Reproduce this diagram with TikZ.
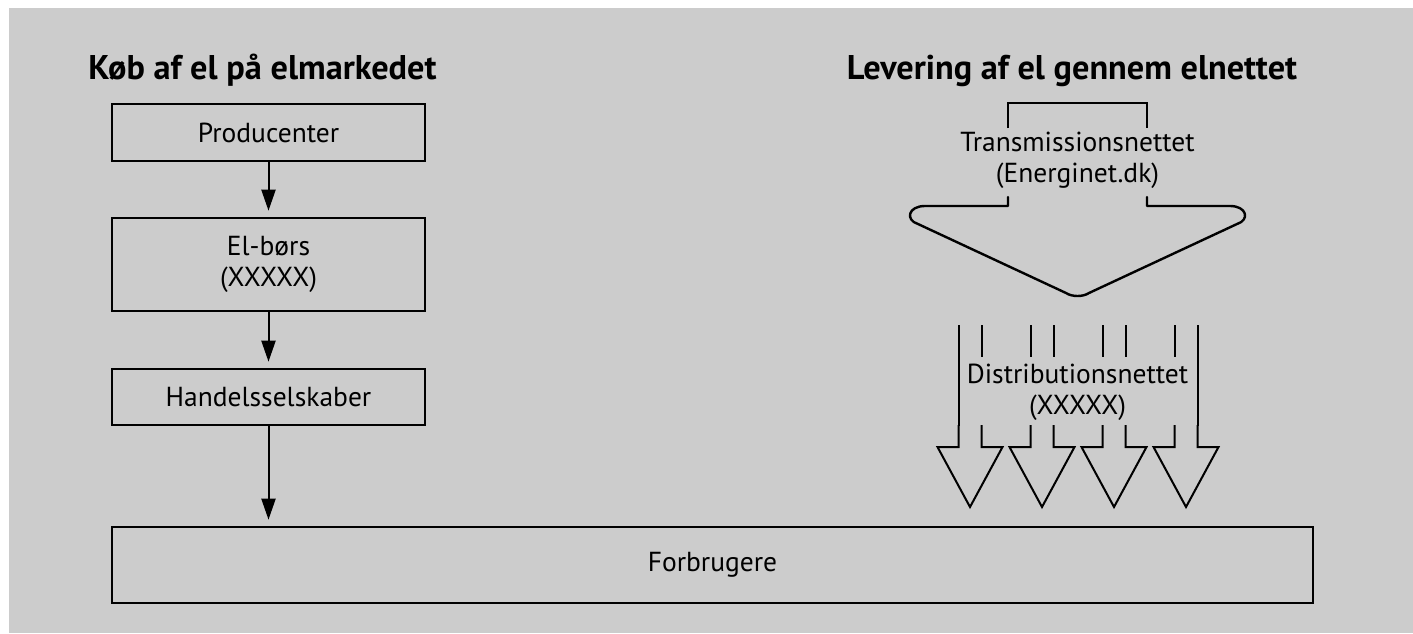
\documentclass[tikz,border=0pt]{standalone}
\usepackage{fontspec}
\setmainfont{PT Sans}
\usetikzlibrary{arrows.meta}
\definecolor{bggrey}{RGB}{204,204,204}
\begin{document}
\begin{tikzpicture}[x=1pt,y=-1pt,
  txt/.style={inner sep=0pt, align=center, font=\fontsize{27.5}{31}\selectfont},
  ttl/.style={inner sep=0pt, anchor=base, font=\bfseries\fontsize{34.3}{38}\selectfont},
  box/.style={draw, line width=2.6pt, inner sep=0pt, align=center,
    font=\fontsize{27.5}{31}\selectfont, minimum width=313pt},
  conn/.style={line width=2pt, -{Triangle[width=14pt,length=21pt]}, shorten >=6pt},
  outl/.style={line width=2.4pt, line join=round, line cap=round},
  darrow/.style={line width=2pt, line join=miter}]
\useasboundingbox (0,0) rectangle (1413,633);
\fill[bggrey] (9,8) rectangle (1413,633);

% titles
\node[ttl] (t1) at (262.5,79) {Køb af el på elmarkedet};
\node[ttl] (t2) at (1072,79) {Levering af el gennem elnettet};

% left chain
\node[box, minimum height=57pt] (prod) at (268.5,132.5) {Producenter};
\node[box, minimum height=93pt] (bors) at (268.5,264.5) {El-børs\\(XXXXX)};
\node[box, minimum height=56pt] (hand) at (268.5,397) {Handelsselskaber};
\node[box, minimum width=1201pt, minimum height=76pt] (forb) at (712.5,565) {Forbrugere};

\draw[conn] (prod) -- (bors);
\draw[conn] (bors) -- (hand);
\draw[conn] (hand.south) -- (hand.south |- forb.north);

% transmission
\node[txt] (trans) at (1077.5,160) {Transmissionsnettet\\(Energinet.dk)};
\draw[outl, line join=miter, line cap=butt] (1008,128) -- (1008,103) -- (1147,103) -- (1147,128);
\draw[outl] (1008,197) -- (1008,206) -- (925,206)
  .. controls (908,206) and (905,220) .. (918,224)
  -- (1066,293) .. controls (1072,297) and (1083,297) .. (1089,293)
  -- (1237,224) .. controls (1250,220) and (1247,206) .. (1230,206)
  -- (1147,206) -- (1147,197);

% distribution
\node[txt] (dist) at (1077.5,392) {Distributionsnettet\\(XXXXX)};
\foreach \cx/\lsplit/\rsplit in {970/0/1, 1042/1/1, 1114/1/1, 1186/1/0}{
  \pgfmathsetmacro{\xl}{\cx-11.5}
  \pgfmathsetmacro{\xr}{\cx+11.5}
  \pgfmathsetmacro{\hl}{\cx-32.5}
  \pgfmathsetmacro{\hr}{\cx+32.5}
  \draw[darrow] (\xl,425) -- (\xl,447) -- (\hl,447) -- (\cx,507) -- (\hr,447) -- (\xr,447) -- (\xr,425);
  \ifnum\lsplit=1
    \draw[darrow] (\xl,325) -- (\xl,357);
  \else
    \draw[darrow] (\xl,325) -- (\xl,426);
  \fi
  \ifnum\rsplit=1
    \draw[darrow] (\xr,325) -- (\xr,357);
  \else
    \draw[darrow] (\xr,325) -- (\xr,426);
  \fi
}
\end{tikzpicture}
\end{document}
